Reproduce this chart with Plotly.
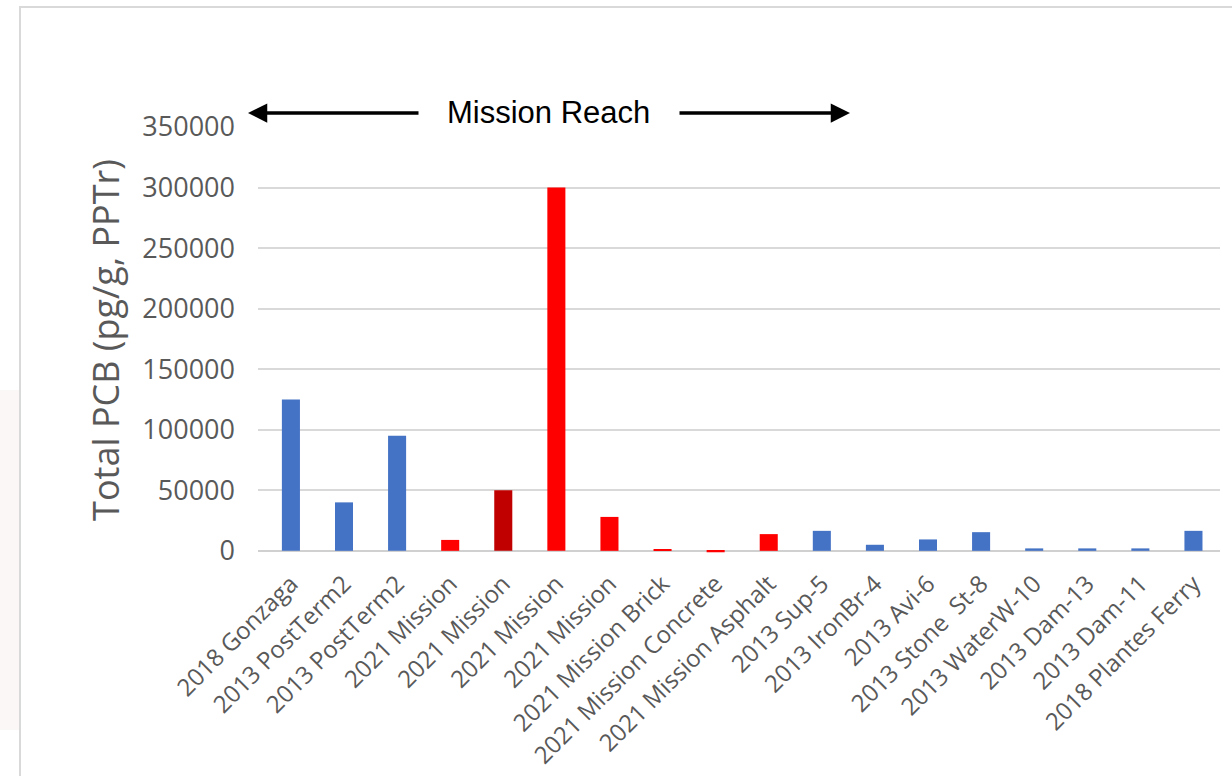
import plotly.graph_objects as go

# Sample sites and total PCB concentrations (pg/g, PPTr)
sites = [
    "2018 Gonzaga", "2013 PostTerm2", "2013 PostTerm2", "2021 Mission",
    "2021 Mission", "2021 Mission", "2021 Mission", "2021 Mission Brick",
    "2021 Mission Concrete", "2021 Mission Asphalt", "2013 Sup-5",
    "2013 IronBr-4", "2013 Avi-6", "2013 Stone  St-8", "2013 WaterW-10",
    "2013 Dam-13", "2013 Dam-11", "2018 Plantes Ferry",
]
pcb_total = [
    125000, 40000, 95000, 9000, 50000, 300000, 28000, 1000,
    -1200, 13800, 16500, 5000, 9400, 15400, 2000, 2000, 2000, 16500,
]
bar_colors = [
    "#4472C4", "#4472C4", "#4472C4", "#FF0000", "#C00000", "#FF0000",
    "#FF0000", "#FF0000", "#FF0000", "#FF0000", "#4472C4", "#4472C4",
    "#4472C4", "#4472C4", "#4472C4", "#4472C4", "#4472C4", "#4472C4",
]
y_ticks = [0, 50000, 100000, 150000, 200000, 250000, 300000, 350000]

W, H = 1232, 776
ML, MR, MT, MB = 258, 12, 127, 223
PW, PH = W - ML - MR, H - MT - MB


def px_x(px):
    return (px - ML) / PW


def px_y(py):
    return (H - MB - py) / PH


fig = go.Figure(
    go.Bar(
        x=list(range(len(sites))),
        y=pcb_total,
        marker=dict(color=bar_colors, line=dict(width=0)),
        hoverinfo="skip",
    )
)

grey = "#595959"
fig.update_layout(
    width=W,
    height=H,
    margin=dict(l=ML, r=MR, t=MT, b=MB),
    paper_bgcolor="white",
    plot_bgcolor="white",
    showlegend=False,
    bargap=0.66,
    font=dict(family="Open Sans", color=grey),
    xaxis=dict(
        tickmode="array",
        tickvals=list(range(len(sites))),
        ticktext=sites,
        tickangle=-45,
        tickfont=dict(size=24, color=grey),
        range=[-0.62, len(sites) - 0.5],
        showgrid=False,
        showline=False,
        zeroline=False,
        ticks="",
        ticklabelstandoff=11,
        automargin=False,
    ),
    yaxis=dict(
        range=[-1800, 350000],
        tickmode="array",
        tickvals=y_ticks,
        ticktext=[str(v) for v in y_ticks],
        tickfont=dict(size=27, color=grey),
        showgrid=True,
        gridcolor="#D9D9D9",
        gridwidth=1.5,
        zeroline=True,
        zerolinecolor="#D0D0D0",
        zerolinewidth=2,
        showline=False,
        ticks="",
        ticklabelstandoff=22,
        automargin=False,
        title=dict(
            text="Total PCB (pg/g, PPTr)",
            font=dict(size=36, color=grey),
            standoff=11,
        ),
    ),
)

# outer frame and faint left-edge tint
fig.add_shape(
    type="rect", xref="paper", yref="paper",
    x0=px_x(0), x1=px_x(19), y0=px_y(730), y1=px_y(390),
    fillcolor="rgba(240,220,220,0.22)", line=dict(width=0), layer="below",
)
fig.add_shape(
    type="rect", xref="paper", yref="paper",
    x0=px_x(20), x1=px_x(1250), y0=px_y(800), y1=px_y(7),
    fillcolor="rgba(0,0,0,0)", line=dict(color="#D9D9D9", width=2),
)

# "Mission Reach" label with arrows on both sides
ya = px_y(113)
fig.add_annotation(
    xref="paper", yref="paper", x=px_x(548), y=px_y(112),
    xanchor="center", yanchor="middle",
    text="Mission Reach", showarrow=False,
    font=dict(family="Liberation Sans", size=31, color="black"),
)
fig.add_annotation(
    xref="paper", yref="paper", x=px_x(248), y=ya, ax=172, ay=0,
    text="", showarrow=True, arrowhead=2, arrowsize=1.1, arrowwidth=3.5,
    arrowcolor="black",
)
fig.add_annotation(
    xref="paper", yref="paper", x=px_x(850), y=ya, ax=-172, ay=0,
    text="", showarrow=True, arrowhead=2, arrowsize=1.1, arrowwidth=3.5,
    arrowcolor="black",
)

fig.write_html("out.html")
